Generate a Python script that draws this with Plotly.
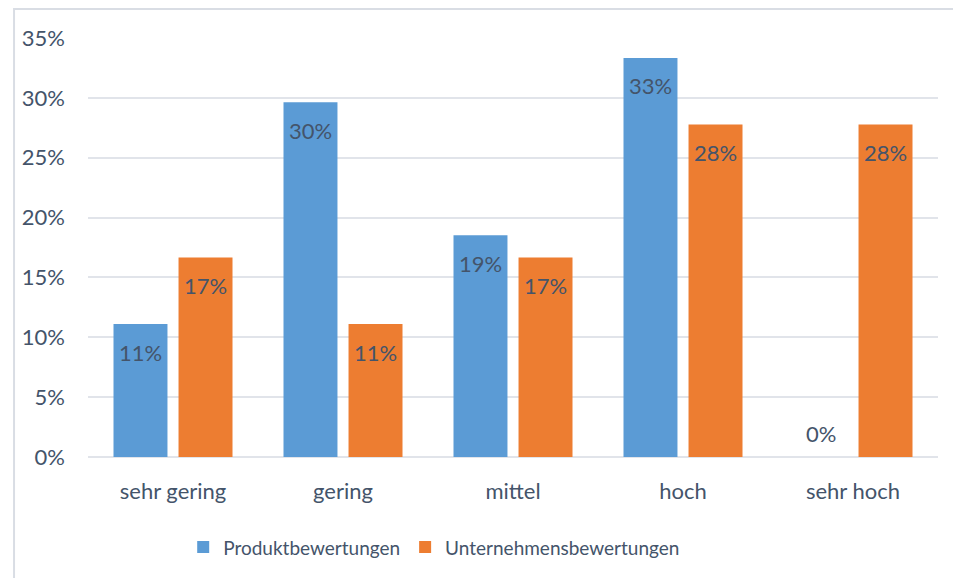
import plotly.graph_objects as go

categories = ["sehr gering", "gering", "mittel", "hoch", "sehr hoch"]
produkt = [0.1111, 0.2963, 0.1852, 0.3333, 0.0]
unternehmen = [0.1667, 0.1111, 0.1667, 0.2778, 0.2778]
y_ticks = [0, 0.05, 0.10, 0.15, 0.20, 0.25, 0.30, 0.35]
y_tick_labels = ["0%", "5%", "10%", "15%", "20%", "25%", "30%", "35%"]

TEXT = "#44546a"
FONT = "Lato, 'Open Sans', sans-serif"
LABEL_SIZE = 22

series = [
    ("Produktbewertungen", produkt, "#5b9bd5", -32.5),
    ("Unternehmensbewertungen", unternehmen, "#ed7d31", 32.5),
]

fig = go.Figure()
for name, vals, color, shift in series:
    fig.add_bar(x=categories, y=vals, name=name,
                marker=dict(color=color, line=dict(width=0)))
    # value labels sit just inside the bar top; empty bars get theirs above the axis
    for cat, v in zip(categories, vals):
        fig.add_annotation(
            x=cat, y=v, xref="x", yref="y", xshift=shift,
            yshift=24 if v == 0 else -28,
            text=f"{v:.0%}", showarrow=False,
            xanchor="center", yanchor="middle",
            font=dict(size=LABEL_SIZE, color=TEXT, family=FONT),
        )

# light frame around the chart area
fig.add_shape(type="rect", xref="paper", yref="paper",
              x0=-0.087, x1=1.2, y0=-0.5, y1=1.069,
              line=dict(color="#d9dde4", width=2), layer="below")

fig.update_layout(
    width=953, height=578,
    margin=dict(l=88, r=15, t=38, b=117),
    paper_bgcolor="white", plot_bgcolor="white",
    barmode="group", bargap=0.235, bargroupgap=0.17,
    font=dict(family=FONT, color=TEXT, size=19),
    showlegend=True,
    legend=dict(orientation="h", x=0.112, xanchor="left", y=-0.17, yanchor="top",
                font=dict(size=19, color=TEXT), itemwidth=30,
                traceorder="normal"),
)
fig.update_xaxes(showgrid=False, showline=False, ticks="", ticklabelstandoff=19,
                 tickfont=dict(size=22, color=TEXT))
fig.update_yaxes(range=[0, 0.35], tickvals=y_ticks, ticktext=y_tick_labels,
                 showgrid=True, gridcolor="#e1e4ea", gridwidth=2,
                 zeroline=True, zerolinecolor="#e1e4ea", zerolinewidth=2,
                 showline=False, ticks="", ticklabelstandoff=22,
                 tickfont=dict(size=22, color=TEXT))

fig.write_html("out.html")
